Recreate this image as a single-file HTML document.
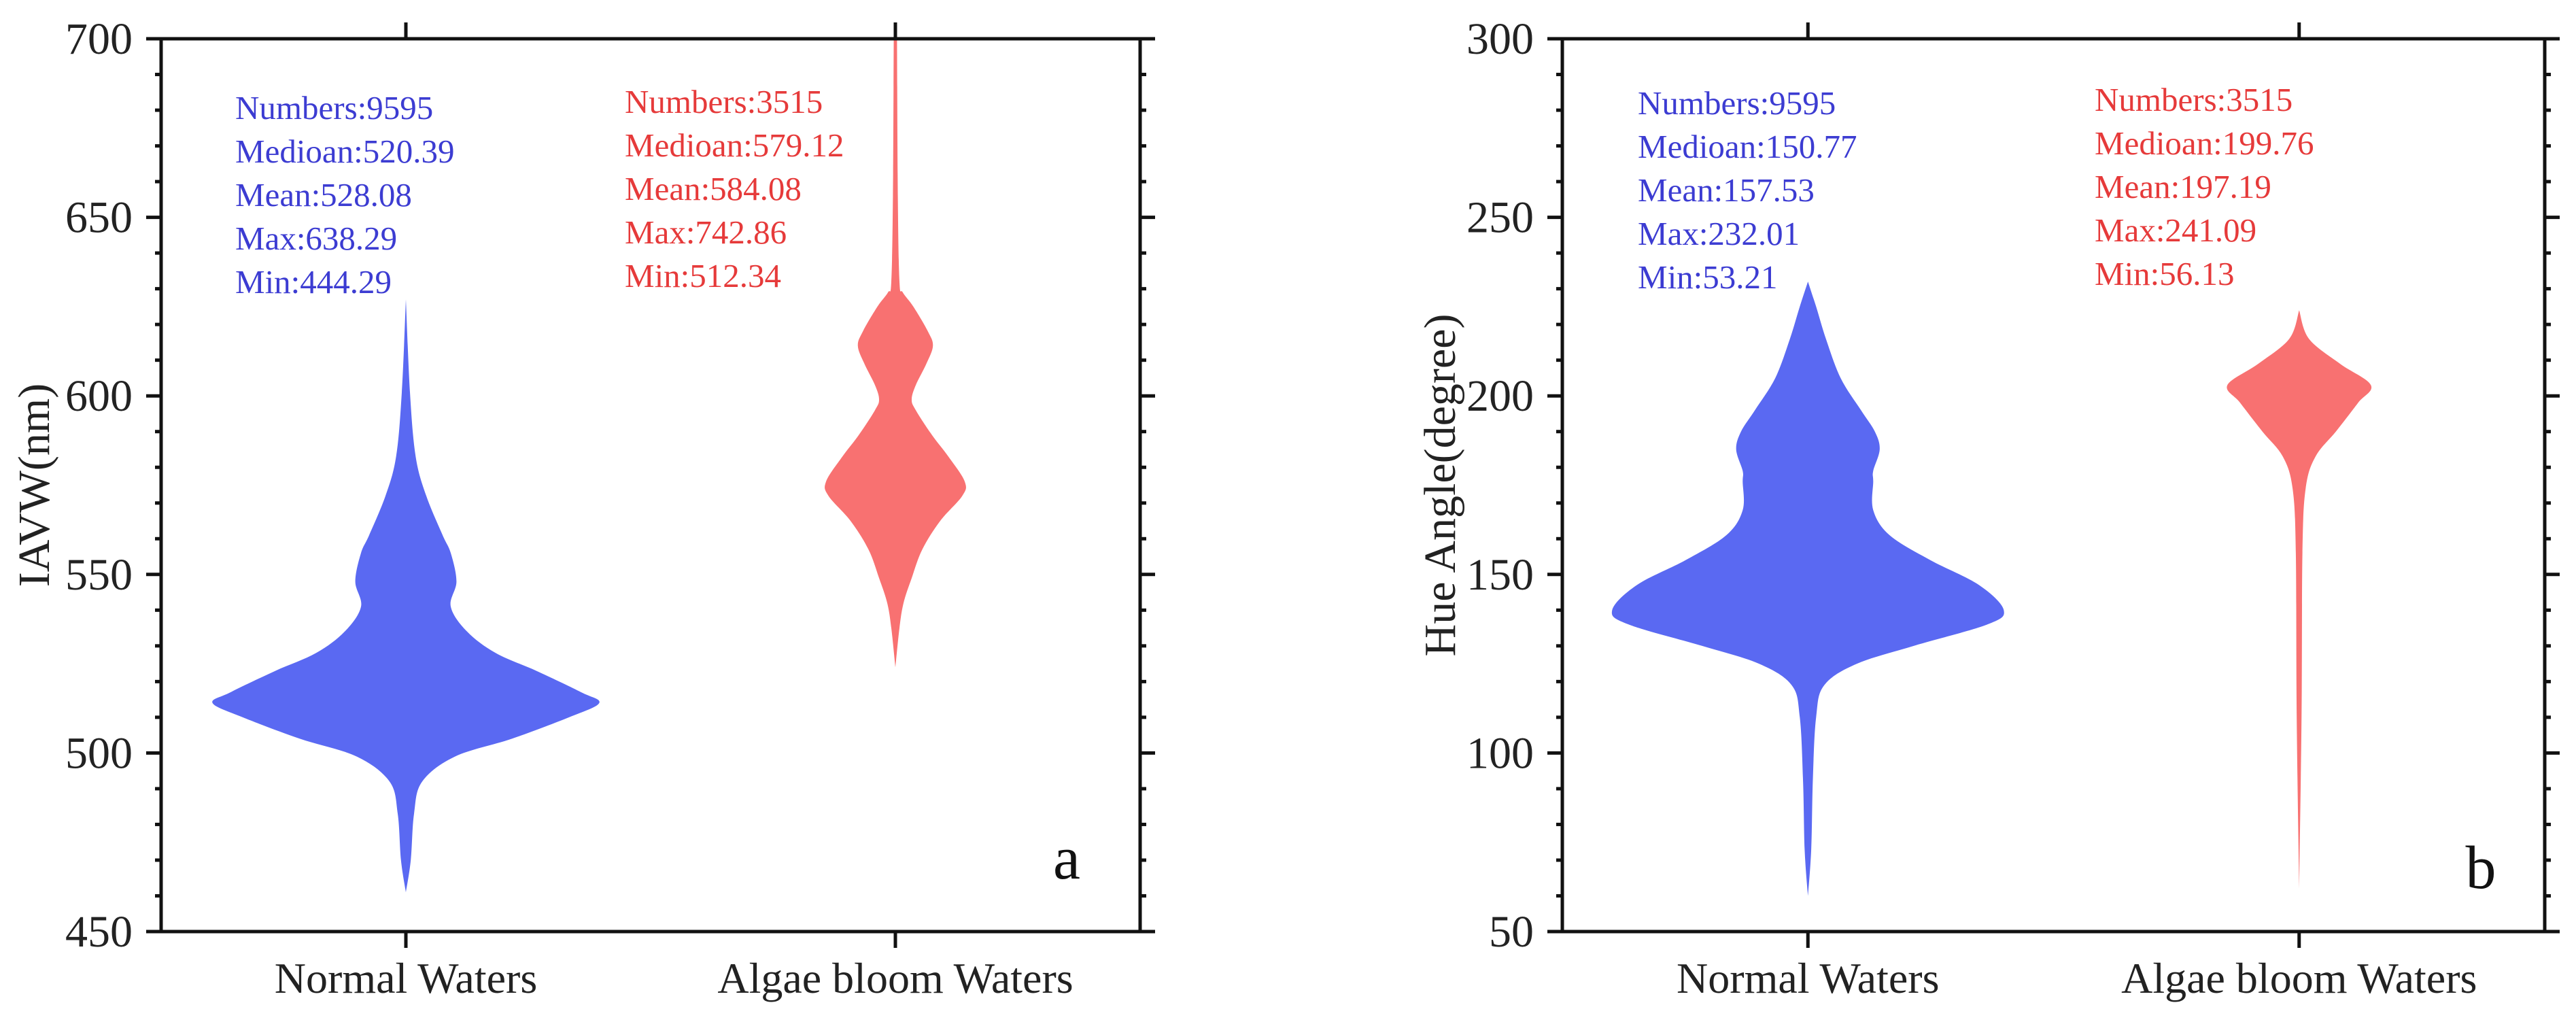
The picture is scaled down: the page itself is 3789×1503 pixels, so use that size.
<!DOCTYPE html>
<html><head><meta charset="utf-8">
<style>
html,body{margin:0;padding:0;background:#fff;}
svg{display:block;font-family:"Liberation Serif",serif;}
</style></head>
<body>
<svg id="chart" width="3789" height="1503" viewBox="0 0 3789 1503" xmlns="http://www.w3.org/2000/svg">
<rect width="3789" height="1503" fill="#fff"/>
</svg>
<script>
// ---- data ----
const categories = ["Normal Waters", "Algae bloom Waters"];
const yTicksA = [450, 500, 550, 600, 650, 700];
const yTicksB = [50, 100, 150, 200, 250, 300];
// violin density profiles (value, relative half-width)
const aNormalVals = [627,601,583,572,561,556,548,541,534,528,523,517,514,510,504,499,492,483,470,461];
const aNormalDens = [0,5,12,25,45,55,62,55,75,110,160,215,237,200,130,60,20,10,6,0];
const aAlgaeVals = [700,656,632,629,625,618,614,609,603,599,596,589,583,576,572,565,557,549,542,535,524];
const aAlgaeDens = [2,3,5,9,22,40,46,38,25,20,25,45,65,85,82,55,33,20,10,5,0];
const bNormalVals = [232,225,216,205,196,190,185,179,176,168,161,154,147,140,136,130,125,119,110,92,73,60];
const bNormalDens = [0,10,22,40,65,82,88,80,80,80,100,150,210,240,220,130,60,20,10,6,4,0];
const bAlgaeVals = [224,216,209,203,198,190,183,174,156,110,62];
const bAlgaeDens = [0,12,50,88,72,45,20,8,4,3,0];
const statsA = [
  ["Numbers:9595","Medioan:520.39","Mean:528.08","Max:638.29","Min:444.29"],
  ["Numbers:3515","Medioan:579.12","Mean:584.08","Max:742.86","Min:512.34"]];
const statsB = [
  ["Numbers:9595","Medioan:150.77","Mean:157.53","Max:232.01","Min:53.21"],
  ["Numbers:3515","Medioan:199.76","Mean:197.19","Max:241.09","Min:56.13"]];

const NS = "http://www.w3.org/2000/svg";
const svg = document.getElementById('chart');
function mk(tag, attrs, parent){
  const e = document.createElementNS(NS, tag);
  for (const k in attrs) e.setAttribute(k, attrs[k]);
  (parent||svg).appendChild(e);
  return e;
}
const BLUE = "#5a69f2", RED = "#f87171", TBLUE = "#3c3cd2", TRED = "#e63a3a";

function smoothSide(pts){
  let d = "";
  for (let i=0;i<pts.length-1;i++){
    const p0 = pts[Math.max(0,i-1)], p1 = pts[i], p2 = pts[i+1], p3 = pts[Math.min(pts.length-1,i+2)];
    const c1x = p1[0]+(p2[0]-p0[0])/6, c1y = p1[1]+(p2[1]-p0[1])/6;
    const c2x = p2[0]-(p3[0]-p1[0])/6, c2y = p2[1]-(p3[1]-p1[1])/6;
    d += ` C${c1x.toFixed(1)},${c1y.toFixed(1)} ${c2x.toFixed(1)},${c2y.toFixed(1)} ${p2[0].toFixed(1)},${p2[1].toFixed(1)}`;
  }
  return d;
}

function panel(cfg){
  const {L,R,T,B,ticks,vmin,vmax,title,titleX,letter,letterX,letterY,stats,statPos,violins,name} = cfg;
  const g = mk('g',{});
  
  
  const y = v => B - (v - vmin)/(vmax - vmin)*(B - T);
  const xc = i => L + (R - L)*(i*2+1)/4;
  const clipId = name + "-clip";
  const cp = mk('clipPath',{id:clipId}, g);
  mk('rect',{x:L,y:T,width:R-L,height:B-T}, cp);
  violins.forEach((vi, i) => {
    const cx = xc(i), s = 1.2;
    const right = vi.vals.map((v,k)=>[cx + vi.dens[k]*s, y(v)]);
    const left = vi.vals.map((v,k)=>[cx - vi.dens[k]*s, y(v)]).reverse();
    let d = `M${right[0][0].toFixed(1)},${right[0][1].toFixed(1)}` + smoothSide(right);
    d += ` L${left[0][0].toFixed(1)},${left[0][1].toFixed(1)}` + smoothSide(left) + " Z";
    const p = mk('path',{d:d, fill:vi.color, 'clip-path':`url(#${clipId})`}, g);
    
    
  });
  const fr = mk('rect',{x:L,y:T,width:R-L,height:B-T,fill:'none',stroke:'#111','stroke-width':5}, g);
  
  
  const step = (vmax - vmin)/25;
  for (let k=0;k<=25;k++){
    const v = vmin + k*step, yy = y(v), major = k%5===0;
    const len = major ? 22 : 9;
    mk('line',{x1:L-len,x2:L,y1:yy,y2:yy,stroke:'#111','stroke-width':5}, g);
    mk('line',{x1:R,x2:R+len,y1:yy,y2:yy,stroke:'#111','stroke-width':5}, g);
  }
  ticks.forEach(v => {
    const t = mk('text',{x:L-42,y:y(v)+22,'text-anchor':'end','font-size':66,fill:'#222'}, g);
    t.textContent = v;
    
    
  });
  categories.forEach((c,i) => {
    const x = xc(i);
    mk('line',{x1:x,x2:x,y1:B,y2:B+24,stroke:'#111','stroke-width':5}, g);
    mk('line',{x1:x,x2:x,y1:T-24,y2:T,stroke:'#111','stroke-width':5}, g);
    const t = mk('text',{x:x,y:B+90,'text-anchor':'middle','font-size':64,fill:'#222'}, g);
    t.textContent = c;
    
    
  });
  const yc = (T+B)/2;
  const tt = mk('text',{x:titleX,y:yc,'text-anchor':'middle','font-size':66,fill:'#222',transform:`rotate(-90 ${titleX} ${yc})`}, g);
  tt.textContent = title;
  
  
  stats.forEach((lines, i) => {
    const [sx, sy] = statPos[i];
    lines.forEach((ln, k) => {
      const t = mk('text',{x:sx,y:sy + k*64 + 17,'font-size':49,fill:i===0?TBLUE:TRED}, g);
      t.textContent = ln;
      
      
    });
  });
  const lt = mk('text',{x:letterX,y:letterY+30,'text-anchor':'middle','font-size':90,fill:'#111'}, g);
  lt.textContent = letter;
  
  
}

panel({name:'panel-a', L:237, R:1677, T:57, B:1370, ticks:yTicksA, vmin:450, vmax:700,
  title:'IAVW(nm)', titleX:72, letter:'a', letterX:1569, letterY:1262,
  stats:statsA, statPos:[[346,158],[919,149]],
  violins:[{vals:aNormalVals,dens:aNormalDens,color:BLUE},{vals:aAlgaeVals,dens:aAlgaeDens,color:RED}]});
panel({name:'panel-b', L:2298, R:3743, T:57, B:1370, ticks:yTicksB, vmin:50, vmax:300,
  title:'Hue Angle(degree)', titleX:2140, letter:'b', letterX:3649, letterY:1276,
  stats:statsB, statPos:[[2409,151],[3081,146]],
  violins:[{vals:bNormalVals,dens:bNormalDens,color:BLUE},{vals:bAlgaeVals,dens:bAlgaeDens,color:RED}]});
</script>
</body></html>
